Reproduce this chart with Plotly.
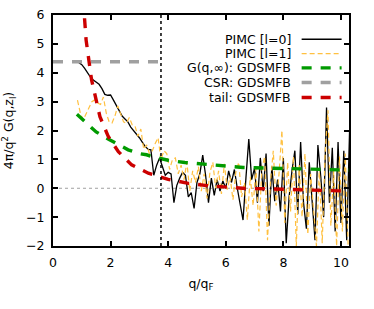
import plotly.graph_objects as go

# ---------------- data ----------------
q_l0 = [round(0.9 + 0.1 * i, 2) for i in range(95)]
g_l0 = [4.35, 4.28, 4.15, 4.0, 3.85, 3.75, 3.68, 3.6, 3.45, 3.25,
        3.22, 3.23, 3.05, 2.85, 2.65, 2.5, 2.4, 2.3, 2.12, 2.0,
        1.9, 1.75, 1.6, 1.45, 1.35, 1.33, 0.45, 0.8, 1.05, 0.75,
        0.45, 0.55, 0.5, -0.5, 0.1, 0.35, 0.55, 0.45, -0.3, -0.15,
        -0.7, 0.2, 0.5, 1.15, 0.45, -0.5, 0.35, -0.25, 0.3, -0.1,
        0.25, 0.0, 0.6, 0.2, 0.65, 0.0, -0.55, -1.1, 0.35, 1.7,
        0.3, 0.7, -0.5, 1.05, -0.1, 1.2, -1.3, 0.75, -0.45, 0.3,
        -0.8, 1.05, -1.9, -0.3, 0.6, 1.3, -0.9, 1.6, -0.5, -1.4,
        0.9, -0.3, -1.8, 1.5, 0.4, -1.0, 2.8, -0.5, 1.4, -1.5,
        1.6, -1.2, 1.3, -1.8, 2.0]

q_l1 = [round(0.85 + 0.1 * i, 2) for i in range(95)]
g_l1 = [3.05, 2.6, 2.37, 2.6, 2.8, 3.0, 3.06, 2.95, 2.9, 3.16,
        2.6, 2.3, 2.26, 2.5, 2.85, 2.6, 2.3, 2.25, 2.45, 2.2,
        2.15, 1.8, 2.05, 1.35, 1.5, 1.2, 1.3, 1.55, 1.75, 0.98,
        1.3, 1.2, 0.65, 1.0, 1.05, 0.5, 0.8, 0.3, 0.9, -0.1,
        0.6, 0.2, 0.75, -0.1, 0.5, -0.35, 0.55, 0.9, 0.0, 0.6,
        -0.2, 0.85, -0.05, 0.4, -0.4, 0.55, 0.9, -0.3, 0.2, -1.1,
        0.4, -0.6, 0.7, -1.5, 0.6, 1.1, -1.8, 0.2, 1.3, -0.6,
        0.5, 2.0, -1.2, 0.9, -0.8, 1.1, -2.0, 0.8, -1.0, 1.2,
        -1.6, 0.5, -0.9, -2.0, 0.7, -1.9, 1.2, 2.7, -1.3, 0.6,
        -2.0, 1.1, -1.5, 1.2, -2.0]

q_inf = [0.83, 1.0, 1.34, 1.5, 1.98, 2.5, 2.61, 3.0, 3.25, 3.5, 3.75,
         4.0, 4.58, 5.0, 6.0, 6.6, 7.0, 8.0, 9.0, 10.07, 10.28]
g_inf = [2.56, 2.4, 2.08, 1.95, 1.67, 1.38, 1.33, 1.2, 1.16, 1.08, 1.02,
         0.97, 0.89, 0.85, 0.77, 0.72, 0.71, 0.68, 0.66, 0.64, 0.63]

q_csr = [0.0, 3.75]
g_csr = [4.38, 4.38]

q_tail = [1.0, 1.08, 1.15, 1.34, 1.63, 1.92, 2.27, 2.73, 3.31, 4.0,
          4.7, 5.34, 6.03, 6.72, 7.42, 8.5, 10.08, 10.28]
g_tail = [7.2, 6.0, 5.13, 3.75, 2.48, 1.79, 1.27, 0.81, 0.52, 0.31,
          0.17, 0.09, 0.03, -0.01, -0.02, -0.05, -0.09, -0.1]

q_F_line = 3.75

names = ["PIMC [l=0]", "PIMC [l=1]", "G(q,∞): GDSMFB", "CSR: GDSMFB", "tail: GDSMFB"]
x_ticks = [0, 2, 4, 6, 8, 10]
y_ticks = [-2, -1, 0, 1, 2, 3, 4, 5, 6]

# ---------------- styles ----------------
styles = [
    dict(color="#000000", width=1.3, dash="solid"),
    dict(color="#ffc040", width=1.2, dash="5px,3px"),
    dict(color="#009a00", width=3.4, dash="10px,9px"),
    dict(color="#a0a0a0", width=3.4, dash="10px,9px"),
    dict(color="#cc0000", width=3.4, dash="10px,9px"),
]
series = [(q_l0, g_l0), (q_l1, g_l1), (q_inf, g_inf), (q_csr, g_csr), (q_tail, g_tail)]

FONT = "DejaVu Sans"
fig = go.Figure()

for (x, y), name, st in zip(series, names, styles):
    fig.add_trace(go.Scatter(x=x, y=y, mode="lines", name=name, line=st,
                             showlegend=False, cliponaxis=True, hoverinfo="skip"))

# reference lines
fig.add_shape(type="line", xref="paper", yref="y", x0=0, x1=1, y0=0, y1=0,
              line=dict(color="#a0a0a0", width=1, dash="dot"), layer="below")
fig.add_shape(type="line", xref="x", yref="paper", x0=q_F_line, x1=q_F_line, y0=0, y1=1,
              line=dict(color="#000000", width=1.5, dash="dot"))

# manual gnuplot-style legend (text right, sample left)
row_y = [0.895, 0.833, 0.771, 0.708, 0.643]
for name, st, yy in zip(names, styles, row_y):
    fig.add_annotation(xref="paper", yref="paper", x=0.81, y=yy, text=name,
                       showarrow=False, xanchor="right", yanchor="middle",
                       font=dict(family=FONT, size=12.5, color="#000000"))
    fig.add_shape(type="line", xref="paper", yref="paper", x0=0.84, x1=0.975,
                  y0=yy, y1=yy, line=st)

axis_common = dict(showline=True, linecolor="#000000", linewidth=2, mirror="ticks",
                   ticks="inside", ticklen=5, tickwidth=1.5, tickcolor="#000000",
                   showgrid=False, zeroline=False, automargin=False,
                   tickfont=dict(family=FONT, size=12.5, color="#000000"))

fig.update_layout(
    width=374, height=309,
    margin=dict(l=53, r=25, t=15, b=63),
    paper_bgcolor="white", plot_bgcolor="white",
    font=dict(family=FONT, size=12.5, color="#000000"),
    xaxis=dict(range=[0, 10.28], tickvals=x_ticks, ticklabelstandoff=4,
               title=dict(text="q/q<sub>F</sub>", standoff=10,
                          font=dict(family=FONT, size=12.5)),
               **axis_common),
    yaxis=dict(range=[-2, 6], tickvals=y_ticks, ticklabelstandoff=4,
               title=dict(text="4π/q<sup>2</sup> G(q,z<sub>l</sub>)", standoff=10,
                          font=dict(family=FONT, size=12.5)),
               **axis_common),
    showlegend=False,
)

# remove the default page margin so the figure sits at the window's top-left corner
fig.write_html("out.html", config={"displayModeBar": False},
               post_script="document.body.style.margin='0';")
